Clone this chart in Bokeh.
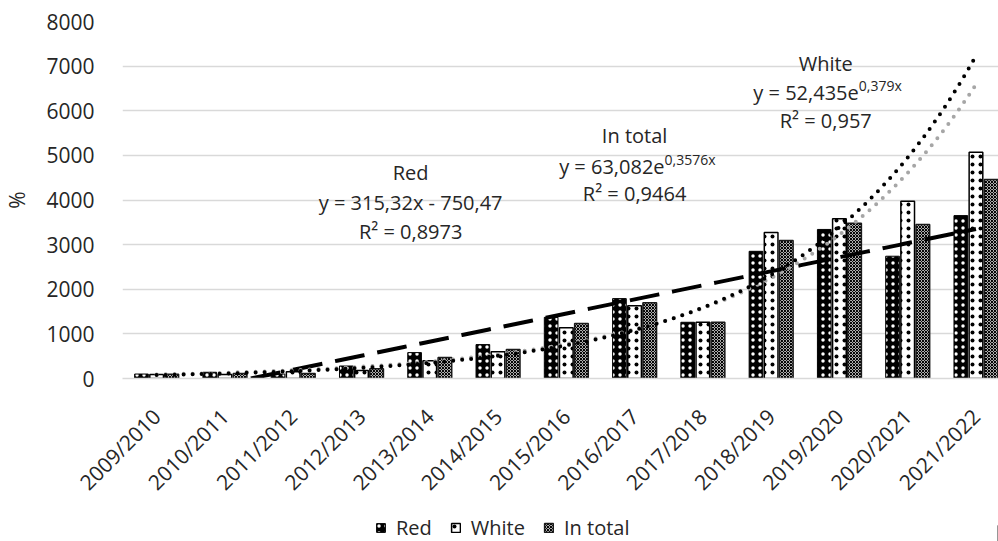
import numpy as np
from bokeh.plotting import figure
from bokeh.layouts import column
from bokeh.models import Range1d, FixedTicker, Legend, LegendItem, Label
from bokeh.embed import file_html
from bokeh.resources import INLINE

# ---------------- data ----------------
seasons = ["2009/2010", "2010/2011", "2011/2012", "2012/2013", "2013/2014",
           "2014/2015", "2015/2016", "2016/2017", "2017/2018", "2018/2019",
           "2019/2020", "2020/2021", "2021/2022"]
red = [100, 140, 100, 280, 580, 760, 1370, 1790, 1260, 2850, 3340, 2740, 3650]
white = [90, 90, 150, 180, 400, 600, 1140, 1630, 1260, 3270, 3580, 3970, 5070]
total = [95, 110, 110, 220, 470, 650, 1230, 1700, 1260, 3090, 3480, 3450, 4460]
y_ticks = [0, 1000, 2000, 3000, 4000, 5000, 6000, 7000, 8000]

# trendline equations shown on the chart
red_slope, red_intercept = 315.32, -750.47
white_a, white_b = 52.435, 0.379
total_a, total_b = 63.082, 0.3576

FONT = "Open Sans"
TXT = "#262626"

RED_STYLE = dict(fill_color="black", line_color="black", line_width=1,
                 hatch_pattern="dot", hatch_color="white", hatch_scale=7, hatch_weight=1)
WHITE_STYLE = dict(fill_color="white", line_color="black", line_width=1.5,
                   hatch_pattern="dot", hatch_color="black", hatch_scale=8, hatch_weight=1)
TOTAL_STYLE = dict(fill_color="white", line_color="#1a1a1a", line_width=1.5,
                   hatch_pattern="diagonal_cross", hatch_color="black", hatch_scale=3,
                   hatch_weight=1.2)

idx = np.arange(1, len(seasons) + 1)

p = figure(width=998, height=509, output_backend="svg", toolbar_location=None,
           x_range=Range1d(0.5, 13.33), y_range=Range1d(0, 8000),
           min_border_left=114, min_border_right=0, min_border_top=21,
           min_border_bottom=131)
p.outline_line_color = None
p.background_fill_color = "white"

# grid
p.xgrid.grid_line_color = None
p.ygrid.grid_line_color = "#d9d9d9"
p.ygrid.grid_line_width = 1.5

# bars
bw = 0.2
off = 0.222
r_red = p.vbar(x=idx - off, top=red, width=bw, bottom=0, **RED_STYLE)
r_white = p.vbar(x=idx, top=white, width=bw, bottom=0, **WHITE_STYLE)
r_total = p.vbar(x=idx + off, top=total, width=bw, bottom=0, **TOTAL_STYLE)

# trendlines
x_root = -red_intercept / red_slope           # linear trend crosses 0 here
xr = np.linspace(x_root, 13, 200)
p.line(xr, red_slope * xr + red_intercept, line_color="black", line_width=4,
       line_dash="30 13")
xs = np.linspace(1, 13, 300)
p.line(xs, total_a * np.exp(total_b * xs), line_color="#a6a6a6", line_width=4,
       line_dash="0 9", line_cap="round")
p.line(xs, white_a * np.exp(white_b * xs), line_color="black", line_width=4,
       line_dash="0 9", line_cap="round")

# axes
p.yaxis.ticker = FixedTicker(ticks=y_ticks)
p.yaxis.axis_line_color = None
p.yaxis.major_tick_line_color = None
p.yaxis.minor_tick_line_color = None
p.yaxis.major_label_text_font = FONT
p.yaxis.major_label_text_font_size = "21px"
p.yaxis.major_label_text_color = TXT
p.yaxis.major_label_standoff = 22
p.yaxis.axis_label = "%"
p.yaxis.axis_label_text_font = FONT
p.yaxis.axis_label_text_font_size = "21px"
p.yaxis.axis_label_text_font_style = "normal"
p.yaxis.axis_label_text_color = TXT
p.yaxis.axis_label_standoff = 12

p.xaxis.ticker = FixedTicker(ticks=list(idx))
p.xaxis.major_label_overrides = {int(i): s for i, s in zip(idx, seasons)}
p.xaxis.major_label_orientation = np.pi / 4
p.xaxis.axis_line_color = "#d9d9d9"
p.xaxis.axis_line_width = 1.5
p.xaxis.major_tick_line_color = None
p.xaxis.minor_tick_line_color = None
p.xaxis.major_label_text_font = FONT
p.xaxis.major_label_text_font_size = "21px"
p.xaxis.major_label_text_color = TXT
p.xaxis.major_label_standoff = 28

# trendline annotations
def lab(text, x, y, size="20px", align="center", xo=0, yo=0):
    p.add_layout(Label(x=x, y=y, text=text, text_font=FONT, text_font_size=size,
                       text_color=TXT, text_align=align, text_baseline="middle",
                       x_offset=xo, y_offset=yo))

# Red (linear)
lab("Red", 4.72, 4616)
lab("y = 315,32x - 750,47", 4.72, 3944)
lab("R² = 0,8973", 4.72, 3294)
# In total (exponential)
lab("In total", 8.0, 5445)
lab("y = 63,082e", 8.0, 4751, align="right", xo=30)
lab("0,3576x", 8.0, 4751, size="14px", align="left", xo=30, yo=7)
lab("R² = 0,9464", 8.0, 4146)
# White (exponential)
lab("White", 10.8, 7059)
lab("y = 52,435e", 10.8, 6409, align="right", xo=33)
lab("0,379x", 10.8, 6409, size="14px", align="left", xo=33, yo=7)
lab("R² = 0,957", 10.8, 5782)

# ---------------- legend strip ----------------
pl = figure(width=998, height=32, output_backend="svg", toolbar_location=None,
            x_range=Range1d(0, 1), y_range=Range1d(0, 1), min_border=0)
pl.axis.visible = False
pl.grid.visible = False
pl.outline_line_color = None
# off-screen proxies so the legend swatches get drawn
l_red = pl.vbar(x=[5], top=[0.5], width=0.1, **RED_STYLE)
l_white = pl.vbar(x=[5], top=[0.5], width=0.1, **WHITE_STYLE)
l_total = pl.vbar(x=[5], top=[0.5], width=0.1, **TOTAL_STYLE)
legend = Legend(items=[LegendItem(label="Red", renderers=[l_red]),
                       LegendItem(label="White", renderers=[l_white]),
                       LegendItem(label="In total", renderers=[l_total])],
                location=(253, 0), orientation="horizontal",
                label_text_font=FONT, label_text_font_size="20px", label_text_color=TXT,
                glyph_width=11, glyph_height=11, label_standoff=10, spacing=18,
                padding=0, margin=0, border_line_color=None, background_fill_alpha=0)
pl.add_layout(legend)

layout = column(p, pl, spacing=0)
open("out.html", "w").write(file_html(layout, INLINE))
